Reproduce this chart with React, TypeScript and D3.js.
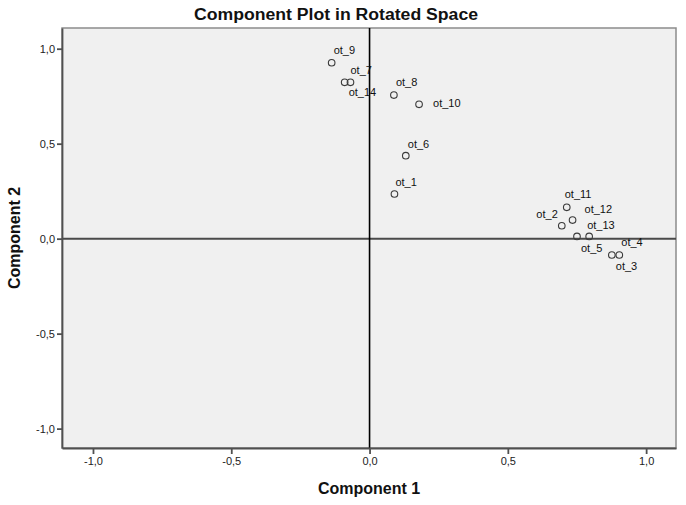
import React, {useEffect, useRef} from 'react'
import * as d3 from 'd3'

const width = 686;
const height = 505;
const plot = ({left: 62, right: 676, top: 28, bottom: 448});

const names = ["ot_1", "ot_2", "ot_3", "ot_4", "ot_5", "ot_6", "ot_7", "ot_8", "ot_9", "ot_10", "ot_11", "ot_12", "ot_13", "ot_14"];
const component1 = [0.090, 0.695, 0.876, 0.903, 0.750, 0.131, -0.069, 0.088, -0.137, 0.179, 0.713, 0.734, 0.794, -0.090];
const component2 = [0.235, 0.068, -0.086, -0.086, 0.012, 0.437, 0.823, 0.756, 0.926, 0.707, 0.165, 0.098, 0.012, 0.823];
const tickValues = [-1.0, -0.5, 0.0, 0.5, 1.0];

// label placement around each point, like SPSS does it
const labelPlace: Record<string, [number, number, string]> = {
    ot_1: [1, -8, "start"],
    ot_2: [-4, -8, "end"],
    ot_3: [4, 15, "start"],
    ot_4: [2, -9, "start"],
    ot_5: [4, 16, "start"],
    ot_6: [2, -8, "start"],
    ot_7: [0, -8, "start"],
    ot_8: [2, -9, "start"],
    ot_9: [2, -9, "start"],
    ot_10: [14, 3, "start"],
    ot_11: [-2, -9, "start"],
    ot_12: [12, -7, "start"],
    ot_13: [-2, -7, "start"],
    ot_14: [4, 14, "start"],
};

const font = "'Liberation Sans', Arial, sans-serif";

const locale = d3.formatLocale({decimal: ",", thousands: ".", grouping: [3], currency: ["", ""], minus: "-"});
const fmt = locale.format(".1f");

export default function App() {
    const ref = useRef<SVGSVGElement>(null);

    useEffect(() => {
        const svg = d3.select(ref.current);
        svg.selectAll("*").remove();

        const x = d3.scaleLinear()
            .domain([-1.112, 1.108])
            .range([plot.left, plot.right]);

        const y = d3.scaleLinear()
            .domain([-1.102, 1.109])
            .range([plot.bottom, plot.top]);

        svg.append("rect")
            .attr("width", width)
            .attr("height", height)
            .attr("fill", "#fff");

        svg.append("rect")
            .attr("x", plot.left)
            .attr("y", plot.top)
            .attr("width", plot.right - plot.left)
            .attr("height", plot.bottom - plot.top)
            .attr("fill", "#f0f0f0")
            .attr("stroke", "#8c8c8c")
            .attr("stroke-width", 1.5);

        // reference lines through the origin
        svg.append("line")
            .attr("x1", plot.left).attr("x2", plot.right)
            .attr("y1", y(0)).attr("y2", y(0))
            .attr("stroke", "#4a4a4a")
            .attr("stroke-width", 2);

        svg.append("line")
            .attr("x1", x(0)).attr("x2", x(0))
            .attr("y1", plot.top).attr("y2", plot.bottom)
            .attr("stroke", "#000")
            .attr("stroke-width", 1.6);

        const xAxis = g => g
            .attr("transform", `translate(0,${plot.bottom})`)
            .call(d3.axisBottom(x).tickValues(tickValues).tickFormat(fmt).tickSize(6).tickPadding(3).tickSizeOuter(0))
            .call(g => g.select(".domain").attr("stroke", "#505050").attr("stroke-width", 1.8));

        const yAxis = g => g
            .attr("transform", `translate(${plot.left},0)`)
            .call(d3.axisLeft(y).tickValues(tickValues).tickFormat(fmt).tickSize(5).tickPadding(2).tickSizeOuter(0))
            .call(g => g.select(".domain").attr("stroke", "#505050").attr("stroke-width", 1.8));

        [svg.append("g").call(xAxis), svg.append("g").call(yAxis)].forEach(g => {
            g.attr("font-family", font).attr("font-size", 11);
            g.selectAll(".tick line").attr("stroke", "#505050").attr("stroke-width", 1.8);
            g.selectAll(".tick text").attr("fill", "#222");
        });

        const points = names.map((name, i) => ({name, c1: component1[i], c2: component2[i]}));

        svg.append("g")
            .selectAll("circle")
            .data(points)
            .join("circle")
            .attr("cx", d => x(d.c1))
            .attr("cy", d => y(d.c2))
            .attr("r", 3.3)
            .attr("fill", "none")
            .attr("stroke", "#3a3a3a")
            .attr("stroke-width", 1.1);

        svg.append("g")
            .attr("font-family", font)
            .attr("font-size", 11)
            .attr("fill", "#111")
            .selectAll("text")
            .data(points)
            .join("text")
            .attr("x", d => x(d.c1) + labelPlace[d.name][0])
            .attr("y", d => y(d.c2) + labelPlace[d.name][1])
            .attr("text-anchor", d => labelPlace[d.name][2])
            .text(d => d.name);

        svg.append("text")
            .attr("x", 336)
            .attr("y", 20)
            .attr("text-anchor", "middle")
            .attr("font-family", font)
            .attr("font-weight", "bold")
            .attr("font-size", 16)
            .attr("textLength", 284)
            .attr("lengthAdjust", "spacingAndGlyphs")
            .attr("fill", "#111")
            .text("Component Plot in Rotated Space");

        svg.append("text")
            .attr("x", (plot.left + plot.right) / 2)
            .attr("y", 494)
            .attr("text-anchor", "middle")
            .attr("font-family", font)
            .attr("font-weight", "bold")
            .attr("font-size", 16)
            .attr("fill", "#111")
            .text("Component 1");

        svg.append("text")
            .attr("transform", `translate(20,${(plot.top + plot.bottom) / 2}) rotate(-90)`)
            .attr("text-anchor", "middle")
            .attr("font-family", font)
            .attr("font-weight", "bold")
            .attr("font-size", 16)
            .attr("fill", "#111")
            .text("Component 2");
    }, []);

    return <svg ref={ref} width={width} height={height}
                style={{position: "absolute", left: 0, top: 0, display: "block"}}/>;
}
